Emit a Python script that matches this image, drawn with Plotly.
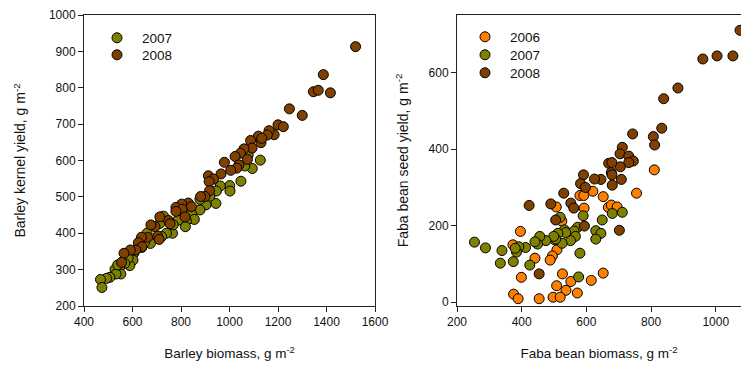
import plotly.graph_objects as go

# ---- Left panel: barley ----
barley_2007_biomass = [1127, 1094, 1077, 1063, 1047, 1001, 1002, 962, 944, 928, 946, 903, 919, 878, 878,
                       843, 855, 822, 818, 788, 765, 768, 740, 713, 720, 728, 674, 660, 638, 649,
                       605, 602, 589, 582, 568, 548, 552, 528, 532, 507, 493, 468, 474, 539]
barley_2007_yield = [601, 578, 615, 585, 543, 531, 516, 530, 482, 514, 516, 478, 502, 493, 464,
                     455, 438, 434, 418, 436, 400, 423, 400, 427, 391, 447, 372, 400, 361, 374,
                     345, 326, 311, 331, 317, 308, 288, 301, 288, 279, 276, 273, 251, 313]

barley_2008_biomass = [1520, 1387, 1346, 1366, 1416, 1247, 1300, 1200, 1222, 1184, 1163, 1156, 1130, 1119,
                       1133, 1087, 1093, 1060, 1045, 1023, 1039, 1030, 1074, 1005, 979, 965, 913, 934,
                       916, 918, 899, 881, 830, 843, 803, 779, 805, 779, 817, 748, 713, 755, 693, 676,
                       662, 704, 710, 637, 624, 639, 614, 591, 565, 555]
barley_2008_yield = [913, 836, 789, 793, 786, 742, 724, 698, 693, 671, 682, 670, 649, 667,
                     661, 655, 634, 632, 620, 611, 588, 579, 603, 573, 595, 563, 558, 549,
                     542, 517, 501, 501, 483, 473, 480, 471, 466, 460, 445, 435, 445, 426, 418, 423,
                     389, 392, 383, 389, 374, 363, 354, 354, 345, 320]

# ---- Right panel: faba bean ----
faba_2006_biomass = [810, 755, 620, 652, 580, 592, 507, 593, 668, 677, 695, 524, 396, 373, 509, 495,
                     488, 441, 399, 526, 552, 508, 537, 572, 497, 519, 454, 375, 389, 615, 652, 502]
faba_2006_yield = [346, 285, 290, 276, 279, 279, 249, 246, 248, 254, 249, 212, 185, 150, 137, 121,
                   110, 115, 65, 74, 54, 43, 31, 24, 13, 13, 9, 21, 9, 57, 76, 163]

faba_2007_biomass = [711, 680, 649, 590, 629, 645, 629, 573, 562, 566, 551, 532, 536, 525, 519, 512,
                     505, 499, 475, 456, 449, 441, 412, 391, 384, 380, 339, 288, 254, 334, 374, 425,
                     580, 576]
faba_2007_yield = [235, 232, 215, 226, 187, 180, 165, 196, 186, 172, 161, 189, 182, 154, 222, 180,
                   165, 172, 161, 172, 152, 158, 143, 145, 131, 141, 135, 142, 157, 102, 106, 97,
                   128, 66]

faba_2008_biomass = [1075, 960, 1004, 1053, 883, 839, 833, 807, 811, 743, 711, 704, 731, 745, 731, 705,
                     669, 679, 677, 679, 708, 680, 645, 625, 591, 582, 597, 530, 552, 561, 490, 423,
                     505, 594, 702, 454]
faba_2008_yield = [711, 636, 644, 644, 560, 532, 455, 433, 411, 440, 405, 388, 382, 369, 365, 354,
                   363, 365, 339, 333, 321, 306, 321, 322, 333, 310, 300, 285, 259, 246, 257, 253,
                   215, 199, 188, 74]

COL = {"2006": "#FF8000", "2007": "#808000", "2008": "#804000"}
FONT = "Arial, Liberation Sans, sans-serif"

W, H = 741, 367
def px_x(p):
    return p / W
def px_y(p):
    return 1 - p / H

fig = go.Figure()

# (x, y, year, xaxis, yaxis, legend id, legend marker-centre px x, item centre px y)
series = [
    (barley_2007_biomass, barley_2007_yield, "2007", "x", "y", "legend", 118, 38),
    (barley_2008_biomass, barley_2008_yield, "2008", "x", "y", "legend2", 118, 55),
    (faba_2006_biomass, faba_2006_yield, "2006", "x2", "y2", "legend3", 486, 37),
    (faba_2007_biomass, faba_2007_yield, "2007", "x2", "y2", "legend4", 486, 55),
    (faba_2008_biomass, faba_2008_yield, "2008", "x2", "y2", "legend5", 486, 73),
]

legends = {}
for x, y, year, xa, ya, leg, lx, ly in series:
    fig.add_trace(go.Scatter(
        x=x, y=y, mode="markers", name=year, xaxis=xa, yaxis=ya, legend=leg, showlegend=True,
        marker=dict(size=10, color=COL[year], line=dict(color="black", width=1)),
    ))
    legends[leg] = dict(x=px_x(lx - 26), y=px_y(ly), xanchor="left", yanchor="middle",
                        itemwidth=40, bgcolor="rgba(0,0,0,0)",
                        font=dict(family=FONT, size=13.5, color="#111"))

axis_common = dict(
    showgrid=False, zeroline=False, showline=True, linecolor="#222", linewidth=1,
    ticks="outside", ticklen=5, tickcolor="#222", tickwidth=1, automargin=False,
    tickfont=dict(family=FONT, size=12, color="#111"),
)
YTFONT = dict(family=FONT, size=14, color="#111")
XTFONT = dict(family=FONT, size=13.5, color="#111")

fig.update_layout(
    width=W, height=H, margin=dict(l=0, r=0, t=0, b=0),
    paper_bgcolor="white", plot_bgcolor="white", showlegend=True,
    font=dict(family=FONT, color="#111"),
    xaxis=dict(axis_common, domain=[px_x(84), px_x(375)], range=[400, 1600], dtick=200,
               mirror=True, anchor="y",
               title=dict(text="Barley biomass, g m<sup>-2</sup>", font=XTFONT, standoff=20)),
    yaxis=dict(axis_common, domain=[px_y(306), px_y(15)], range=[200, 1000], dtick=100,
               mirror=True, anchor="x",
               title=dict(text="Barley kernel yield, g m<sup>-2</sup>", font=YTFONT, standoff=19)),
    xaxis2=dict(axis_common, domain=[px_x(457), 1.0], range=[200, 1078], dtick=200,
                mirror=True, anchor="y2",
                title=dict(text="Faba bean biomass, g m<sup>-2</sup>", font=XTFONT, standoff=20)),
    yaxis2=dict(axis_common, domain=[px_y(306), px_y(15)], range=[-10, 751], dtick=200,
                mirror=False, anchor="x2",
                title=dict(text="Faba bean seed yield, g m<sup>-2</sup>", font=YTFONT, standoff=16)),
    **legends,
)

fig.write_html("out.html")
